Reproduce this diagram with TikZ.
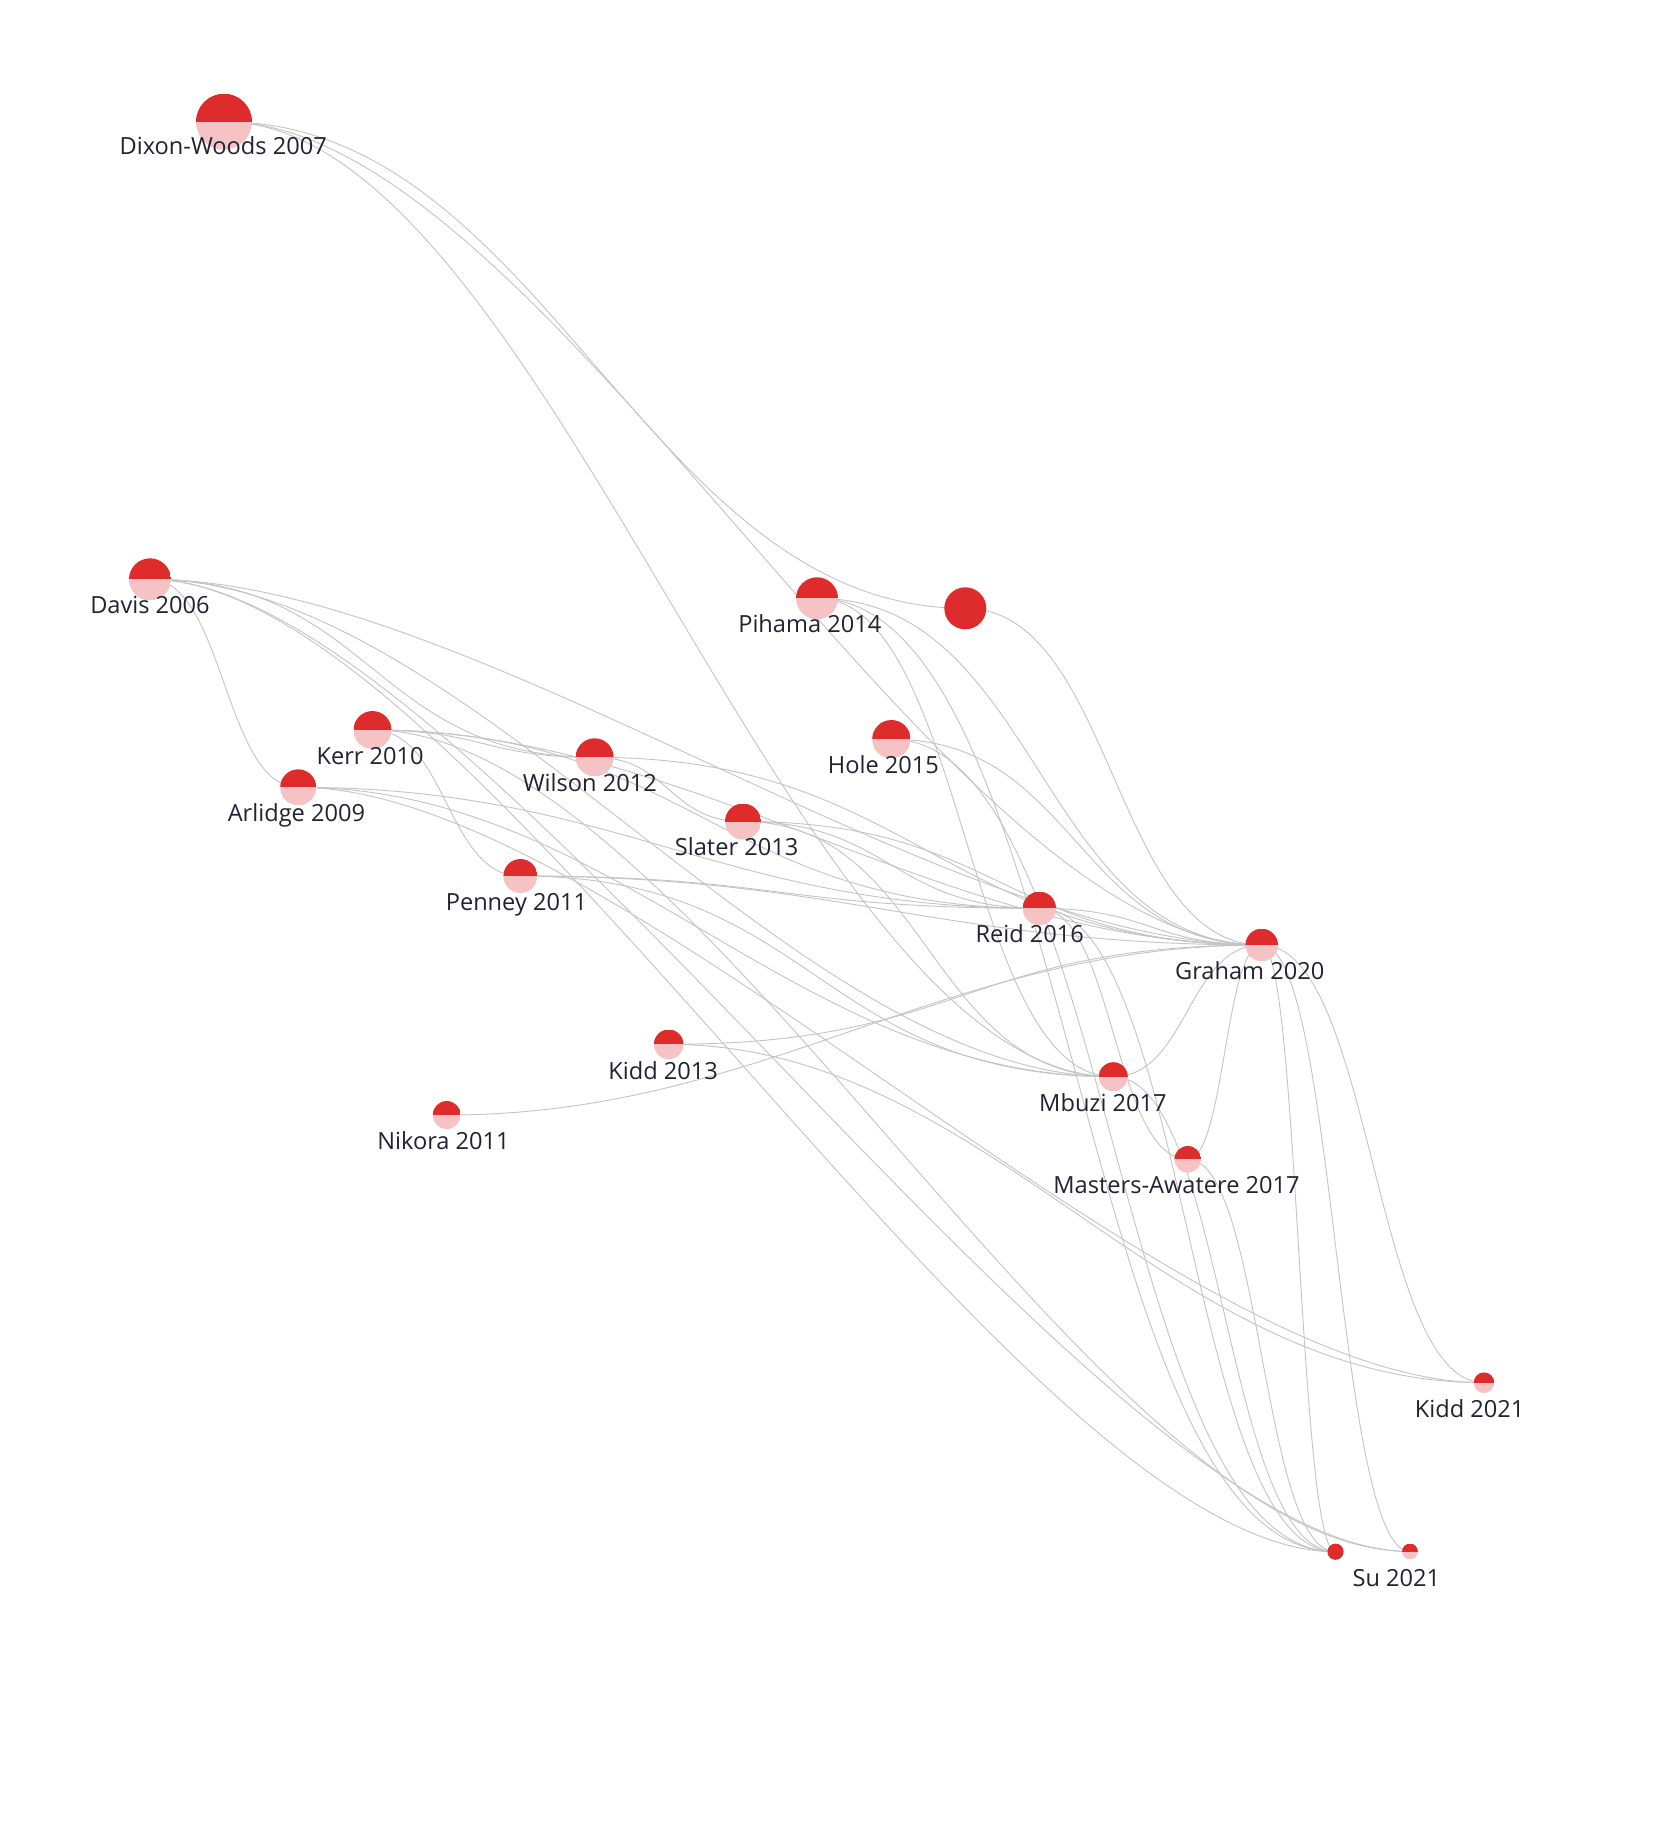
\documentclass[tikz,border=0pt]{standalone}
\usepackage{fontspec}
\setmainfont{Open Sans}
\usetikzlibrary{calc,backgrounds}
\definecolor{nodered}{RGB}{222,44,44}
\definecolor{nodepink}{RGB}{245,195,195}
\definecolor{edgegray}{RGB}{196,196,196}
\definecolor{labelcol}{RGB}{34,34,52}
\tikzset{
  edge/.style={draw=edgegray, line width=0.9pt},
  halfnode/.style={circle, inner sep=0pt, minimum size=#1, path picture={
      \fill[nodered] (path picture bounding box.west) rectangle (path picture bounding box.north east);
      \fill[nodepink] (path picture bounding box.west) rectangle (path picture bounding box.south east);}},
  fullnode/.style={circle, inner sep=0pt, minimum size=#1, fill=nodered},
  lab/.style={anchor=base, text=labelcol, inner sep=0pt, font=\fontsize{23.6}{28}\selectfont}
}
\newcommand{\lnk}[2]{\draw[edge] let \p1=(#1.center), \p2=(#2.center), \n1={min(0.5*(\x2-\x1),320pt)} in (\p1) .. controls ({\x1+\n1},{\y1}) and ({\x2-\n1},{\y2}) .. (\p2);}
\begin{document}
\begin{tikzpicture}[x=1pt,y=-1pt]
\begin{pgfonlayer}{background}
\fill[white] (0,0) rectangle (1668,1832);
\end{pgfonlayer}
\useasboundingbox (0,0) rectangle (1668,1832);
% nodes
\node[halfnode=42pt] (DA) at (150,579.3) {};
\node[halfnode=56pt] (DW) at (224,121.7) {};
\node[halfnode=36pt] (AR) at (298.2,787.3) {};
\node[halfnode=38pt] (KE) at (372.5,730) {};
\node[halfnode=28pt] (NI) at (446.7,1115) {};
\node[halfnode=34pt] (PE) at (520.4,876) {};
\node[halfnode=38pt] (WI) at (594.6,757.3) {};
\node[halfnode=29.6pt] (K13) at (668.7,1044.3) {};
\node[halfnode=36pt] (SL) at (743,821.5) {};
\node[halfnode=42pt] (PI) at (817,598.3) {};
\node[halfnode=38.4pt] (HO) at (891.4,739.2) {};
\node[fullnode=42pt] (U1) at (965.3,608.3) {};
\node[halfnode=33.4pt] (RE) at (1039.3,908.3) {};
\node[halfnode=29pt] (MB) at (1113.3,1076.7) {};
\node[halfnode=26.6pt] (MA) at (1187.7,1159.3) {};
\node[halfnode=32.6pt] (GR) at (1261.7,945) {};
\node[fullnode=16.2pt] (U2) at (1335.5,1551.7) {};
\node[halfnode=15.8pt] (SU) at (1410,1551.5) {};
\node[halfnode=20.6pt] (K21) at (1484,1382.7) {};
% labels
\node[lab] (lDA) at (150,613.3) {Davis 2006};
\node[lab] (lDW) at (223.2,154.5) {Dixon-Woods 2007};
\node[lab] (lAR) at (296.4,821.3) {Arlidge 2009};
\node[lab] (lKE) at (370.1,764) {Kerr 2010};
\node[lab] (lNI) at (443.5,1149.5) {Nikora 2011};
\node[lab] (lPE) at (516.4,910.3) {Penney 2011};
\node[lab] (lWI) at (589.8,791.5) {Wilson 2012};
\node[lab] (lK13) at (663.1,1079) {Kidd 2013};
\node[lab] (lSL) at (736.6,855.8) {Slater 2013};
\node[lab] (lPI) at (809.8,632) {Pihama 2014};
\node[lab] (lHO) at (883.4,773.4) {Hole 2015};
\node[lab] (lRE) at (1029.7,942.3) {Reid 2016};
\node[lab] (lMB) at (1102.9,1111.2) {Mbuzi 2017};
\node[lab] (lMA) at (1176.5,1193.8) {Masters-Awatere 2017};
\node[lab] (lGR) at (1249.7,979.7) {Graham 2020};
\node[lab] (lSU) at (1396.4,1586) {Su 2021};
\node[lab] (lK21) at (1469.6,1417.5) {Kidd 2021};
% edges
\begin{pgfonlayer}{background}
\lnk{DW}{U1}\lnk{DW}{GR}\lnk{DW}{MB}
\lnk{DA}{AR}\lnk{DA}{WI}\lnk{DA}{GR}\lnk{DA}{MB}\lnk{DA}{U2}\lnk{DA}{SU}
\lnk{AR}{RE}\lnk{AR}{MB}\lnk{AR}{K21}
\lnk{KE}{WI}\lnk{KE}{PE}\lnk{KE}{RE}\lnk{KE}{GR}\lnk{KE}{SU}
\lnk{PE}{RE}\lnk{PE}{GR}\lnk{PE}{MB}
\lnk{WI}{SL}\lnk{WI}{GR}
\lnk{K13}{GR}\lnk{K13}{K21}
\lnk{NI}{GR}
\lnk{SL}{RE}\lnk{SL}{GR}\lnk{SL}{MB}
\lnk{PI}{GR}\lnk{PI}{MB}\lnk{PI}{U2}
\lnk{HO}{GR}\lnk{HO}{U2}
\lnk{U1}{GR}
\lnk{RE}{GR}\lnk{RE}{MA}\lnk{RE}{U2}
\lnk{MB}{GR}\lnk{MB}{U2}
\lnk{MA}{GR}\lnk{MA}{U2}
\lnk{GR}{U2}\lnk{GR}{SU}\lnk{GR}{K21}
\end{pgfonlayer}
\end{tikzpicture}
\end{document}
